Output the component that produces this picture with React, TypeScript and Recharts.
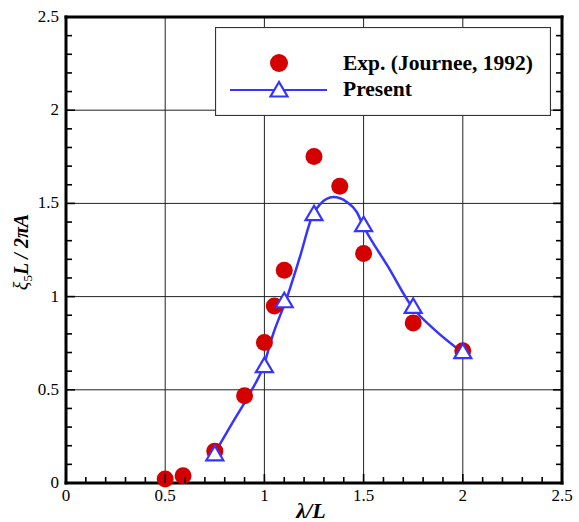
import React from "react";
import {
  ComposedChart,
  Line,
  Scatter,
  XAxis,
  YAxis,
  ReferenceLine,
  Legend,
} from "recharts";

// Experimental points (Journee, 1992)
const expX = [0.5, 0.59, 0.75, 0.9, 1.0, 1.05, 1.1, 1.25, 1.38, 1.5, 1.75, 2.0];
const expY = [0.021, 0.039, 0.171, 0.468, 0.754, 0.949, 1.141, 1.752, 1.592, 1.231, 0.859, 0.709];

// Present computation, marker positions
const presentX = [0.75, 1.0, 1.1, 1.25, 1.5, 1.75, 2.0];
const presentY = [0.154, 0.627, 0.975, 1.442, 1.383, 0.945, 0.702];

// Present computation, fitted curve
const curveX = [0.746, 0.843, 0.927, 0.994, 1.045, 1.109, 1.179, 1.245, 1.28, 1.347, 1.415, 1.465, 1.497, 1.624, 1.744, 1.86, 1.996];
const curveY = [0.154, 0.33, 0.481, 0.623, 0.802, 0.981, 1.213, 1.442, 1.495, 1.534, 1.508, 1.454, 1.383, 1.159, 0.945, 0.82, 0.702];

const majorTicks = [0, 0.5, 1, 1.5, 2, 2.5];
const gridValues = [0.5, 1, 1.5, 2];
const allTicks = Array.from({ length: 26 }, (_, i) => i / 10);

const expData = expX.map((x, i) => ({ x, y: expY[i] }));
const presentData = presentX.map((x, i) => ({ x, y: presentY[i] }));
const curveData = curveX.map((x, i) => ({ x, y: curveY[i] }));

const FONT = "'Liberation Serif', 'Times New Roman', serif";
const RED = "#d40000";
const BLUE = "#3535ff";
const FRAME = { stroke: "#000", strokeWidth: 3, strokeLinecap: "square" as const };

const isMajor = (v: number) => majorTicks.some((m) => Math.abs(m - v) < 1e-6);
const fmt = (v: number) => String(Math.round(v * 10) / 10);
const tickLen = (v: number) => (isMajor(v) ? 9 : 6);

const BottomTick = (props: any) => {
  const { x, y, payload } = props;
  const v = payload.value;
  return (
    <g>
      <line x1={x} y1={y} x2={x} y2={y - tickLen(v)} stroke="#000" strokeWidth={1.6} />
      {isMajor(v) && (
        <text x={x} y={y + 18} textAnchor="middle" fontFamily={FONT} fontSize={17} fill="#000">
          {fmt(v)}
        </text>
      )}
    </g>
  );
};

const TopTick = (props: any) => {
  const { x, y, payload } = props;
  return <line x1={x} y1={y} x2={x} y2={y + tickLen(payload.value)} stroke="#000" strokeWidth={1.6} />;
};

const LeftTick = (props: any) => {
  const { x, y, payload } = props;
  const v = payload.value;
  return (
    <g>
      <line x1={x} y1={y} x2={x + tickLen(v)} y2={y} stroke="#000" strokeWidth={1.6} />
      {isMajor(v) && (
        <text x={x - 7} y={y + 5} textAnchor="end" fontFamily={FONT} fontSize={17} fill="#000">
          {fmt(v)}
        </text>
      )}
    </g>
  );
};

const RightTick = (props: any) => {
  const { x, y, payload } = props;
  return <line x1={x} y1={y} x2={x - tickLen(payload.value)} y2={y} stroke="#000" strokeWidth={1.6} />;
};

const Triangle = (props: any) => {
  const { cx, cy } = props;
  if (cx == null || cy == null) return <g />;
  const pts = `${cx},${cy - 8.5} ${cx - 8.5},${cy + 6} ${cx + 8.5},${cy + 6}`;
  return <polygon points={pts} fill="#fff" stroke={BLUE} strokeWidth={2.2} />;
};

const Dot = (props: any) => {
  const { cx, cy } = props;
  if (cx == null || cy == null) return <g />;
  return <circle cx={cx} cy={cy} r={8.5} fill={RED} />;
};

const XTitle = (props: any) => {
  const { viewBox } = props;
  const cx = viewBox.x + viewBox.width / 2 - 3;
  return (
    <text x={cx} y={viewBox.y + 35} textAnchor="middle" fontFamily={FONT} fontSize={22} fontWeight="bold" fontStyle="italic" fill="#000">
      λ/L
    </text>
  );
};

const YTitle = (props: any) => {
  const { viewBox } = props;
  const x = viewBox.x + viewBox.width - 38;
  const y = viewBox.y + viewBox.height / 2 + 2;
  return (
    <text x={x} y={y} transform={`rotate(-90, ${x}, ${y})`} textAnchor="middle" fontFamily={FONT} fontSize={20} fill="#000">
      <tspan fontStyle="italic">ξ</tspan>
      <tspan fontSize={13} dy={4}>5</tspan>
      <tspan fontWeight="bold" fontStyle="italic" dy={-4}>L / 2πA</tspan>
    </text>
  );
};

const LegendBox = () => (
  <svg width={336} height={89} style={{ display: "block" }}>
    <rect x={0.5} y={0.5} width={335} height={88} fill="#fff" stroke="#333" strokeWidth={1.2} />
    <circle cx={64} cy={36} r={9} fill={RED} />
    <line x1={15} y1={63} x2={112} y2={63} stroke={BLUE} strokeWidth={2.2} />
    <polygon points="64,55 55.5,69.5 72.5,69.5" fill="#fff" stroke={BLUE} strokeWidth={2.2} />
    <text x={128} y={43} fontFamily={FONT} fontSize={21.5} fontWeight="bold" fill="#000">
      Exp. (Journee, 1992)
    </text>
    <text x={128} y={69} fontFamily={FONT} fontSize={21.5} fontWeight="bold" fill="#000">
      Present
    </text>
  </svg>
);

export default function App() {
  return (
    <div style={{ position: "absolute", left: 0, top: 0, width: 579, height: 522, background: "#fff" }}>
      <ComposedChart width={579} height={522} margin={{ top: 16, right: 16, bottom: 38, left: 65 }}>
        <XAxis
          xAxisId={0}
          type="number"
          dataKey="x"
          domain={[0, 2.5]}
          ticks={allTicks}
          interval={0}
          height={1}
          tickSize={0}
          tickMargin={0}
          tickLine={false}
          tick={BottomTick}
          axisLine={FRAME}
          label={<XTitle />}
        />
        <XAxis
          xAxisId="top"
          orientation="top"
          type="number"
          domain={[0, 2.5]}
          ticks={allTicks}
          interval={0}
          allowDataOverflow
          height={1}
          tickSize={0}
          tickMargin={0}
          tickLine={false}
          tick={TopTick}
          axisLine={FRAME}
        />
        <YAxis
          yAxisId={0}
          type="number"
          dataKey="y"
          domain={[0, 2.5]}
          ticks={allTicks}
          interval={0}
          width={1}
          tickSize={0}
          tickMargin={0}
          tickLine={false}
          tick={LeftTick}
          axisLine={FRAME}
          label={<YTitle />}
        />
        <YAxis
          yAxisId="right"
          orientation="right"
          type="number"
          domain={[0, 2.5]}
          ticks={allTicks}
          interval={0}
          allowDataOverflow
          width={1}
          tickSize={0}
          tickMargin={0}
          tickLine={false}
          tick={RightTick}
          axisLine={FRAME}
        />
        {gridValues.map((v) => (
          <ReferenceLine key={`gx${v}`} x={v} stroke="#222" strokeWidth={1} />
        ))}
        {gridValues.map((v) => (
          <ReferenceLine key={`gy${v}`} y={v} stroke="#222" strokeWidth={1} />
        ))}
        <Line
          data={curveData}
          dataKey="y"
          type="monotone"
          stroke={BLUE}
          strokeWidth={2.5}
          dot={false}
          activeDot={false}
          isAnimationActive={false}
          legendType="none"
        />
        <Scatter data={expData} dataKey="y" shape={Dot} isAnimationActive={false} legendType="none" />
        <Scatter data={presentData} dataKey="y" shape={Triangle} isAnimationActive={false} legendType="none" />
        <Legend
          layout="horizontal"
          verticalAlign="middle"
          align="center"
          content={LegendBox}
          wrapperStyle={{ left: 215, top: 27, width: 336, height: 89 }}
        />
      </ComposedChart>
    </div>
  );
}
